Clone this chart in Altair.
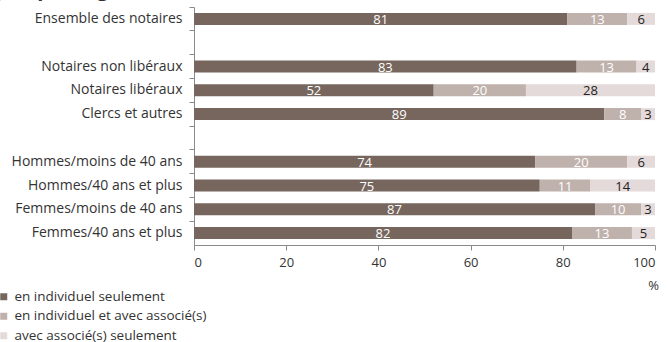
import altair as alt
import pandas as pd

title_text = "Mode d'exercice selon le statut et le groupe d'âge"
categories = ["Ensemble des notaires", " ", "Notaires non libéraux", "Notaires libéraux",
              "Clercs et autres", "  ", "Hommes/moins de 40 ans", "Hommes/40 ans et plus",
              "Femmes/moins de 40 ans", "Femmes/40 ans et plus"]
rows = ["Ensemble des notaires", "Notaires non libéraux", "Notaires libéraux",
        "Clercs et autres", "Hommes/moins de 40 ans", "Hommes/40 ans et plus",
        "Femmes/moins de 40 ans", "Femmes/40 ans et plus"]
series = ["en individuel seulement", "en individuel et avec associé(s)", "avec associé(s) seulement"]
individuel = [81, 83, 52, 89, 74, 75, 87, 82]
mixte = [13, 13, 20, 8, 20, 11, 10, 13]
associes = [6, 4, 28, 3, 6, 14, 3, 5]
x_ticks = [0, 20, 40, 60, 80, 100]
colors = ["#76665E", "#BFB1AC", "#E4DADA"]

records = []
for i, r in enumerate(rows):
    for k, vals in enumerate([individuel, mixte, associes]):
        records.append({"cat": r, "serie": series[k], "ordre": k, "val": vals[i]})
df = pd.DataFrame(records)

FONT = "Open Sans"

base = alt.Chart(df).transform_stack(
    stack="val", groupby=["cat"], as_=["x0", "x1"], sort=[alt.SortField("ordre")]
).transform_calculate(
    mid="(datum.x0 + datum.x1) / 2",
    tc="datum.ordre == 2 ? '#222222' : '#ffffff'"
)

y_enc = alt.Y("cat:N",
              scale=alt.Scale(domain=categories, paddingInner=0, paddingOuter=0),
              axis=alt.Axis(title=None, bandPosition=0, tickSize=5, domainColor="#8a8a8a",
                            tickColor="#8a8a8a", labelFontSize=14, labelColor="#333333",
                            labelPadding=7, labelFont=FONT, labelLimit=300))

x_scale = alt.Scale(domain=[0, 100], nice=False)

bars = base.mark_bar(size=12).encode(
    x=alt.X("x0:Q", scale=x_scale,
            axis=alt.Axis(values=x_ticks, title="%", grid=False, tickSize=5,
                          domainColor="#8a8a8a", tickColor="#8a8a8a", labelFontSize=13,
                          labelColor="#333333", labelPadding=6, labelFont=FONT,
                          titleFont=FONT, titleFontSize=13, titleFontWeight="normal",
                          titleColor="#333333", titleX=459, titleY=40,
                          titleBaseline="middle", titleAlign="center")),
    x2="x1:Q",
    y=y_enc,
    color=alt.Color("serie:N", scale=alt.Scale(domain=series, range=colors),
                    legend=alt.Legend(title=None, orient="none", legendX=-197, legendY=283,
                                      padding=0, symbolType="square", symbolSize=49,
                                      symbolStrokeWidth=0, labelFontSize=13.5,
                                      labelColor="#333333", labelFont=FONT,
                                      labelLimit=400, rowPadding=4.5, labelOffset=4)),
)

labels = base.mark_text(fontSize=13, baseline="middle", dy=1, font=FONT).encode(
    x=alt.X("mid:Q", scale=x_scale),
    y=y_enc,
    text="val:Q",
    color=alt.Color("tc:N", scale=None),
)

title_mark = alt.Chart(alt.Data(values=[{"t": title_text}])).mark_text(
    align="right", baseline="alphabetic", fontSize=20, fontWeight="bold",
    font=FONT, color="#333333"
).encode(text="t:N", x=alt.value(-74), y=alt.value(-11))

chart = alt.layer(bars, labels, title_mark).properties(
    width=461, height=238,
    autosize=alt.AutoSizeParams(type="none"),
    padding={"left": 194, "top": 7, "right": 13, "bottom": 97},
).configure_view(stroke=None)

chart.save("out.html", embed_options={"renderer": "svg", "actions": False})
